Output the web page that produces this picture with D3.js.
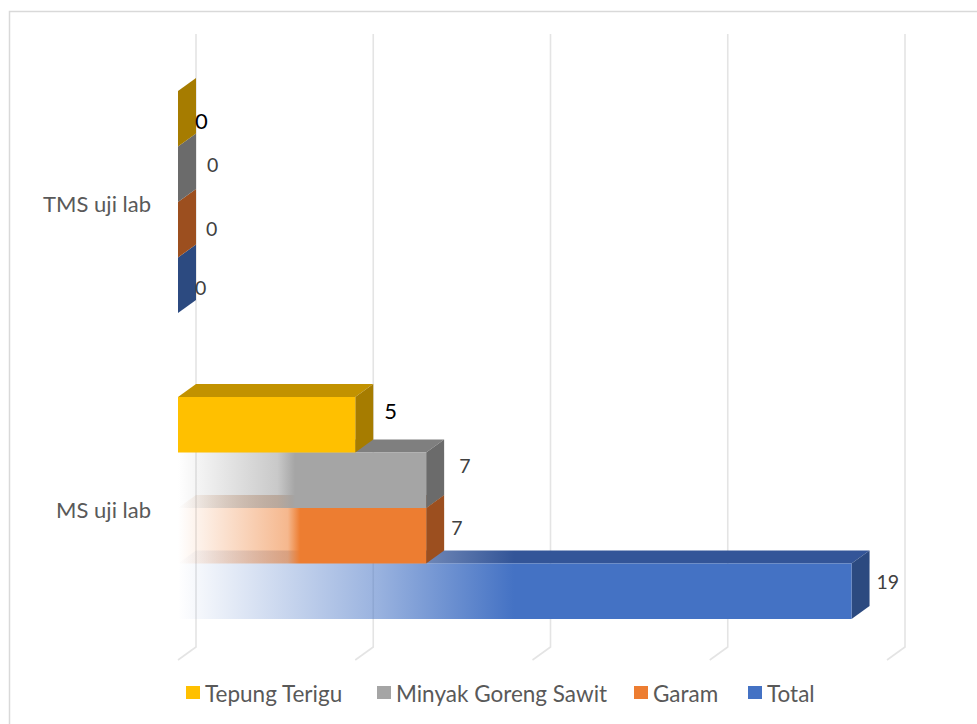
<!DOCTYPE html>
<html>
<head>
<meta charset="utf-8">
<script src="https://cdn.jsdelivr.net/npm/d3@7"></script>
<style>
  html, body { margin: 0; padding: 0; background: #fff; }
  svg { display: block; }
  text { font-family: Lato, "Open Sans", sans-serif; }
</style>
</head>
<body>
<svg id="chart" width="977" height="724"></svg>
<script>
// ---- data ----
const categories = ["TMS uji lab", "MS uji lab"];
const seriesNames = ["Tepung Terigu", "Minyak Goreng Sawit", "Garam", "Total"];
const tepungTerigu = [0, 5];
const minyakGorengSawit = [0, 7];
const garam = [0, 7];
const total = [0, 19];
const xTicks = [0, 5, 10, 15, 20];

const seriesValues = [tepungTerigu, minyakGorengSawit, garam, total];

// ---- styles ----
const frontColors = ["#FFC000", "#A5A5A5", "#ED7D31", "#4472C4"];
const topColors   = ["#C29200", "#7F7F7F", "#B25E22", "#335598"];
const sideColors  = ["#A67C00", "#6B6B6B", "#9C4F1F", "#2C4A80"];
const fadeEnd     = [null, 295, 300, 514];   // gradient full-colour point (px); null = solid
const fadeStops   = [null, [0.85, 0.6], [0.9, 0.55], [0.6, 0.55]];
const depth = { dx: 18, dy: -13 };
// label nudges [category][series] -> [dx, dy] relative to bar back-right edge / bar centre
const labelNudge = [
  [[-1, 2], [11, -10], [10, -1], [-1, 2]],
  [[11, -14], [15, -15], [7, -8], [7, -10]]
];

const svg = d3.select("#chart");

// chart border
svg.append("rect").attr("x", 9.5).attr("y", 11.5).attr("width", 975).attr("height", 720)
  .attr("fill", "#fff").attr("stroke", "#D9D9D9").attr("stroke-width", 1.5);

const x = d3.scaleLinear().domain([0, 20]).range([178, 887]);
const y = d3.scaleBand().domain(categories).range([49, 661]).paddingInner(0.2745).paddingOuter(0.13725);
const ys = d3.scaleBand().domain(seriesNames).range([0, y.bandwidth()]);

// gradients
const defs = svg.append("defs");
seriesNames.forEach((s, i) => {
  if (fadeEnd[i] == null) return;
  [["f", frontColors[i]], ["t", topColors[i]]].forEach(([k, c]) => {
    const g = defs.append("linearGradient").attr("id", `g${k}${i}`)
      .attr("gradientUnits", "userSpaceOnUse")
      .attr("x1", x(0)).attr("x2", fadeEnd[i]).attr("y1", 0).attr("y2", 0);
    g.append("stop").attr("offset", 0).attr("stop-color", c).attr("stop-opacity", 0);
    g.append("stop").attr("offset", fadeStops[i][0]).attr("stop-color", c).attr("stop-opacity", fadeStops[i][1]);
    g.append("stop").attr("offset", 1).attr("stop-color", c).attr("stop-opacity", 1);
  });
});

// gridlines (3D wall + floor)
const gridTop = 34, floorBack = 647;
svg.append("g").selectAll("path").data(xTicks).join("path")
  .attr("d", t => `M${x(t) + depth.dx},${gridTop}V${floorBack}L${x(t)},${floorBack - depth.dy}`)
  .attr("fill", "none").attr("stroke", "#E4E4E4").attr("stroke-width", 1.6);

// category labels
svg.append("g").selectAll("text").data(categories).join("text")
  .attr("x", 151).attr("y", c => y(c) + y.bandwidth() / 2 + 1)
  .attr("text-anchor", "end").attr("dominant-baseline", "central")
  .attr("font-size", 22).attr("fill", "#595959").text(c => c);

// bars (drawn back-to-front: bottom series first)
const bars = svg.append("g");
const order = d3.range(seriesNames.length).reverse();
categories.forEach((c, ci) => {
  order.forEach(si => {
    const v = seriesValues[si][ci];
    const x0 = x(0), x1 = x(v);
    const y0 = y(c) + ys(seriesNames[si]), y1 = y0 + ys.bandwidth();
    const { dx, dy } = depth;
    const fillF = fadeEnd[si] == null ? frontColors[si] : `url(#gf${si})`;
    const fillT = fadeEnd[si] == null ? topColors[si] : `url(#gt${si})`;
    if (v > 0) {
      bars.append("path").attr("d", `M${x0},${y0}L${x0 + dx},${y0 + dy}H${x1 + dx}L${x1},${y0}Z`)
        .attr("fill", fillT);
    }
    bars.append("path").attr("d", `M${x1},${y0}L${x1 + dx},${y0 + dy}V${y1 + dy}L${x1},${y1}Z`)
      .attr("fill", sideColors[si]);
    if (v > 0) {
      bars.append("rect").attr("x", x0).attr("y", y0).attr("width", x1 - x0).attr("height", y1 - y0)
        .attr("fill", fillF);
    }
  });
});

// data labels
const labels = svg.append("g");
categories.forEach((c, ci) => {
  seriesNames.forEach((s, si) => {
    const v = seriesValues[si][ci];
    const yc = y(c) + ys(s) + ys.bandwidth() / 2;
    const [ndx, ndy] = labelNudge[ci][si];
    labels.append("text")
      .attr("x", x(v) + depth.dx + ndx)
      .attr("y", yc + ndy)
      .attr("dominant-baseline", "central")
      .attr("font-size", si === 0 ? 22 : 19.5)
      .attr("fill", si === 0 ? "#000" : "#404040")
      .text(v);
  });
});

// legend
const legendItems = [
  { name: seriesNames[0], x: 186 },
  { name: seriesNames[1], x: 377 },
  { name: seriesNames[2], x: 634 },
  { name: seriesNames[3], x: 748 }
];
const lg = svg.append("g").selectAll("g").data(legendItems).join("g")
  .attr("transform", d => `translate(${d.x},686)`);
lg.append("rect").attr("width", 14).attr("height", 13).attr("fill", (d, i) => frontColors[i]);
lg.append("text").attr("x", 19).attr("y", 7).attr("dominant-baseline", "central")
  .attr("font-size", 22.5).attr("fill", "#595959").text(d => d.name);
</script>
</body>
</html>
